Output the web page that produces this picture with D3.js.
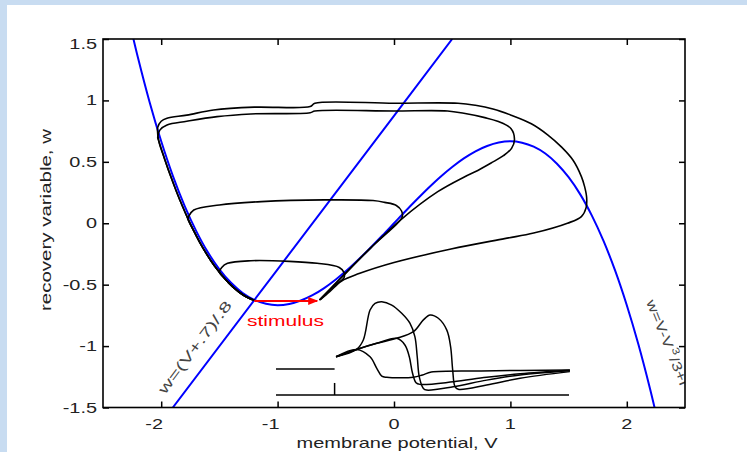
<!DOCTYPE html>
<html><head><meta charset="utf-8">
<script src="https://cdn.jsdelivr.net/npm/d3@7"></script>
<style>html,body{margin:0;padding:0;background:#c8dcf1;overflow:hidden}</style>
</head><body><svg id="c" width="747" height="452"></svg>
<script>
// ---------- data ----------
const xTicks = [-2, -1, 0, 1, 2];
const xTickLabels = ["-2", "-1", "0", "1", "2"];
const yTicks = [-1.5, -1, -0.5, 0, 0.5, 1, 1.5];
const yTickLabels = ["-1.5", "-1", "-0.5", "0", "0.5", "1", "1.5"];

// cubic nullcline w = V - V^3/3 + I
const cubicV = [-2.25,-2.2,-2.1,-2.0,-1.9,-1.8,-1.7,-1.6,-1.5,-1.4,-1.3,-1.2,-1.1,-1.0,-0.9,-0.8,-0.7,-0.6,-0.5,-0.4,-0.3,-0.2,-0.1,0,0.1,0.2,0.3,0.4,0.5,0.6,0.7,0.8,0.9,1.0,1.1,1.2,1.3,1.4,1.5,1.6,1.7,1.8,1.9,2.0,2.1,2.2,2.25];
const cubicW = [1.547,1.349,0.987,0.667,0.386,0.144,-0.062,-0.235,-0.375,-0.485,-0.568,-0.624,-0.656,-0.667,-0.657,-0.629,-0.586,-0.528,-0.458,-0.379,-0.291,-0.197,-0.100,0,0.100,0.197,0.291,0.379,0.458,0.528,0.586,0.629,0.657,0.667,0.656,0.624,0.568,0.485,0.375,0.235,0.062,-0.144,-0.386,-0.667,-0.987,-1.349,-1.547];

// linear nullcline w = (V+.7)/.8
const lineV = [-1.9, -1.0, 0.0, 0.5];
const lineW = [-1.5, -0.375, 0.875, 1.5];

// stimulus arrow
const stimV = [-1.2, -0.66];
const stimW = [-0.632, -0.632];

// trajectories (V, w)
const trajA = [[-0.63,-0.62],[-0.55,-0.555],[-0.45,-0.47],[-0.3,-0.41],[0.0,-0.32],[0.49,-0.21],[0.95,-0.125],[1.2,-0.08],[1.49,0.0],[1.61,0.054],[1.65,0.125],[1.655,0.21],[1.637,0.30],[1.61,0.38],[1.537,0.515],[1.44,0.62],[1.32,0.72],[1.18,0.81],[1.006,0.88],[0.85,0.93],[0.7,0.96],[0.55,0.977],[0.0,0.977],[-0.68,0.977],[-0.72,0.95],[-1.2,0.945],[-1.55,0.922],[-1.78,0.88],[-1.95,0.855],[-2.0,0.83],[-2.03,0.78],[-2.02,0.667],[-1.97,0.522],[-1.92,0.386],[-1.87,0.261],[-1.82,0.144],[-1.77,0.036],[-1.72,-0.062],[-1.67,-0.153],[-1.62,-0.235],[-1.57,-0.309],[-1.52,-0.375],[-1.47,-0.434],[-1.42,-0.485],[-1.37,-0.530],[-1.32,-0.568],[-1.27,-0.599],[-1.22,-0.62],[-1.2,-0.625]];
const trajB = [[-0.64,-0.625],[-0.45,-0.44],[-0.2,-0.2],[0.06,0.03],[0.376,0.257],[0.6,0.375],[0.72,0.43],[0.834,0.49],[0.94,0.55],[1.01,0.61],[1.035,0.68],[1.006,0.77],[0.89,0.83],[0.78,0.86],[0.6,0.895],[0.46,0.914],[0.0,0.914],[-0.68,0.914],[-0.72,0.90],[-1.23,0.89],[-1.52,0.868],[-1.78,0.83],[-1.95,0.80],[-2.01,0.76],[-2.03,0.70],[-2.02,0.667],[-1.97,0.522],[-1.92,0.386],[-1.87,0.261],[-1.82,0.144],[-1.77,0.036],[-1.72,-0.062],[-1.67,-0.153],[-1.62,-0.235],[-1.57,-0.309],[-1.52,-0.375],[-1.47,-0.434],[-1.42,-0.485],[-1.37,-0.530],[-1.32,-0.568],[-1.27,-0.599],[-1.22,-0.62],[-1.2,-0.625]];
const trajC = [[-0.64,-0.625],[-0.45,-0.44],[-0.2,-0.2],[0.03,0.0],[0.07,0.05],[0.065,0.10],[0.02,0.145],[-0.08,0.17],[-0.18,0.185],[-0.6,0.19],[-1.14,0.176],[-1.5,0.149],[-1.72,0.108],[-1.765,0.054],[-1.77,0.036],[-1.72,-0.062],[-1.67,-0.153],[-1.62,-0.235],[-1.57,-0.309],[-1.52,-0.375],[-1.47,-0.434],[-1.42,-0.485],[-1.37,-0.530],[-1.32,-0.568],[-1.27,-0.599],[-1.22,-0.62],[-1.2,-0.625]];
const trajD = [[-0.64,-0.625],[-0.5,-0.5],[-0.43,-0.445],[-0.43,-0.40],[-0.47,-0.36],[-0.66,-0.326],[-0.9,-0.31],[-1.23,-0.305],[-1.43,-0.326],[-1.48,-0.36],[-1.5,-0.40],[-1.47,-0.434],[-1.42,-0.485],[-1.37,-0.530],[-1.32,-0.568],[-1.27,-0.599],[-1.22,-0.62],[-1.2,-0.625]];

// inset: V(t) traces
const insetRest = [[-20,-1.2],[0,-1.2]];
const insetBase = [[-20,-2.3],[80,-2.3]];
const insetStim = [[0,-2.3],[0,-1.79]];
const trace1 = [[0.5,-0.68],[7.5,-0.37],[9.8,0.03],[12.1,1.3],[13.8,1.58],[16.1,1.65],[19.5,1.51],[22.9,1.16],[25.7,0.74],[27.4,0.17],[28.2,-0.68],[28.9,-1.53],[30.3,-2.02],[31.4,-2.09],[40.5,-1.95],[51.9,-1.67],[63.3,-1.45],[80.3,-1.27]];
const trace2 = [[0.5,-0.68],[7.5,-0.37],[14.4,-0.11],[21.2,0.10],[26.9,0.38],[30.3,0.88],[32.6,1.09],[35.4,0.95],[38.3,0.45],[39.6,-0.26],[40.3,-1.24],[41.1,-1.95],[42.2,-2.06],[51.9,-1.88],[63.3,-1.59],[80.3,-1.31]];
const trace3 = [[0.5,-0.68],[7.5,-0.37],[14.4,-0.11],[21.2,0.10],[24,-0.18],[25.5,-0.68],[26.6,-1.38],[27.8,-1.78],[29.1,-1.85],[40.5,-1.74],[51.9,-1.55],[63.3,-1.4],[80.3,-1.25]];
const trace4 = [[0.5,-0.68],[7.5,-0.37],[12.1,-0.68],[14.4,-1.17],[16.1,-1.50],[17.8,-1.55],[26.9,-1.55],[30,-1.45],[33,-1.33],[50,-1.28],[80.3,-1.24]];

// ---------- drawing ----------
const svg = d3.select("#c");
const FONT = "'Liberation Sans', Arial, Helvetica, sans-serif";
svg.append("rect").attr("x", 7).attr("y", 5).attr("width", 740).attr("height", 447).attr("fill", "#ffffff");

const x = d3.scaleLinear().domain([-2.5, 2.5]).range([103, 685]);
const y = d3.scaleLinear().domain([-1.5, 1.5]).range([407.5, 39]);

svg.append("defs").append("clipPath").attr("id", "plotclip")
  .append("rect").attr("x", x(-2.5)).attr("y", y(1.5)).attr("width", x(2.5) - x(-2.5)).attr("height", y(-1.5) - y(1.5));

const plot = svg.append("g").attr("clip-path", "url(#plotclip)");
const lineXY = d3.line().x(d => x(d[0])).y(d => y(d[1])).curve(d3.curveCatmullRom.alpha(0.5));

// nullclines
plot.append("path").datum(cubicV.map((v, i) => [v, cubicW[i]]))
  .attr("d", lineXY).attr("fill", "none").attr("stroke", "#0000ff").attr("stroke-width", 2);
plot.append("path").datum(lineV.map((v, i) => [v, lineW[i]]))
  .attr("d", d3.line().x(d => x(d[0])).y(d => y(d[1]))).attr("fill", "none").attr("stroke", "#0000ff").attr("stroke-width", 2);

// trajectories
[trajA, trajB, trajC, trajD].forEach(t => {
  plot.append("path").datum(t).attr("d", lineXY).attr("fill", "none")
    .attr("stroke", "#000").attr("stroke-width", 1.6).attr("stroke-linejoin", "round");
});

// stimulus arrow
svg.append("defs").append("marker").attr("id", "arrow").attr("viewBox", "0 0 10 10")
  .attr("refX", 9).attr("refY", 5).attr("markerWidth", 5).attr("markerHeight", 5).attr("orient", "auto")
  .append("path").attr("d", "M0,1 L10,5 L0,9 z").attr("fill", "#ff0000");
plot.append("line").attr("x1", x(stimV[0])).attr("y1", y(stimW[0])).attr("x2", x(stimV[1])).attr("y2", y(stimW[1]))
  .attr("stroke", "#ff0000").attr("stroke-width", 2).attr("marker-end", "url(#arrow)");

// inset
const tI = d3.scaleLinear().domain([-20, 80]).range([276, 569]);
const vI = d3.scaleLinear().domain([-2.3, 1.8]).range([395, 298.2]);
const lineI = d3.line().x(d => tI(d[0])).y(d => vI(d[1]));
const lineIc = d3.line().x(d => tI(d[0])).y(d => vI(d[1])).curve(d3.curveCatmullRom.alpha(0.5));
[insetRest, insetBase, insetStim].forEach(s => {
  svg.append("path").datum(s).attr("d", lineI).attr("fill", "none").attr("stroke", "#000").attr("stroke-width", 1.5);
});
[trace1, trace2, trace3, trace4].forEach(s => {
  svg.append("path").datum(s).attr("d", lineIc).attr("fill", "none").attr("stroke", "#000").attr("stroke-width", 1.5).attr("stroke-linejoin", "round");
});

// axes
const tick = 6;
svg.append("g").attr("transform", `translate(0,${y(-1.5)})`)
  .call(d3.axisBottom(x).tickValues(xTicks).tickSizeInner(-tick).tickSizeOuter(0).tickFormat(""));
svg.append("g").attr("transform", `translate(0,${y(1.5)})`)
  .call(d3.axisTop(x).tickValues(xTicks).tickSizeInner(-tick).tickSizeOuter(0).tickFormat(""));
svg.append("g").attr("transform", `translate(${x(-2.5)},0)`)
  .call(d3.axisLeft(y).tickValues(yTicks).tickSizeInner(-tick).tickSizeOuter(0).tickFormat(""));
svg.append("g").attr("transform", `translate(${x(2.5)},0)`)
  .call(d3.axisRight(y).tickValues(yTicks).tickSizeInner(-tick).tickSizeOuter(0).tickFormat(""));
svg.selectAll(".domain").remove();
svg.selectAll(".tick line").attr("stroke", "#000").attr("stroke-width", 1.5);
svg.append("rect").attr("x", x(-2.5)).attr("y", y(1.5)).attr("width", x(2.5) - x(-2.5)).attr("height", y(-1.5) - y(1.5))
  .attr("fill", "none").attr("stroke", "#000").attr("stroke-width", 1.6);

// tick labels (horizontally stretched like the original)
const SX = 1.42;
xTicks.forEach((v, i) => {
  const dx = v < 0 ? -7 : 0;
  svg.append("text").attr("transform", `translate(${x(v) + dx},429) scale(${SX},1)`)
    .attr("text-anchor", "middle").attr("font-family", FONT).attr("font-size", 14).attr("fill", "#222").text(xTickLabels[i]);
});
yTicks.forEach((v, i) => {
  const dy = v === 1.5 ? 5 : 0;
  svg.append("text").attr("transform", `translate(97,${y(v) + 5 + dy}) scale(${SX},1)`)
    .attr("text-anchor", "end").attr("font-family", FONT).attr("font-size", 14).attr("fill", "#222").text(yTickLabels[i]);
});

// axis titles
svg.append("text").attr("x", 397).attr("y", 447.5).attr("text-anchor", "middle")
  .attr("font-family", FONT).attr("font-size", 15).attr("fill", "#222")
  .attr("textLength", 201).attr("lengthAdjust", "spacingAndGlyphs").text("membrane potential, V");
svg.append("text").attr("transform", "translate(51,220) rotate(-90)").attr("text-anchor", "middle")
  .attr("font-family", FONT).attr("font-size", 15).attr("fill", "#222")
  .attr("textLength", 182).attr("lengthAdjust", "spacingAndGlyphs").text("recovery variable, w");

// stimulus label
svg.append("text").attr("x", 247).attr("y", 326).attr("font-family", FONT).attr("font-size", 15).attr("fill", "#ff0000")
  .attr("textLength", 77).attr("lengthAdjust", "spacingAndGlyphs").text("stimulus");

// nullcline labels
svg.append("text").attr("transform", "translate(165,395) rotate(-53) scale(1.55,1)").attr("font-family", FONT).attr("font-size", 14).attr("fill", "#444")
  .text("w=(V+.7)/.8");
const lab2 = plot.append("text").attr("transform", "translate(646,302) rotate(68) scale(1.3,1)").attr("font-family", FONT).attr("font-size", 13.5).attr("fill", "#444");
lab2.append("tspan").text("w=V-V");
lab2.append("tspan").attr("dy", -6).attr("dx", 1.5).attr("font-size", 10).text("3");
lab2.append("tspan").attr("dy", 6).attr("dx", 1).text("/3+I");
</script></body></html>
